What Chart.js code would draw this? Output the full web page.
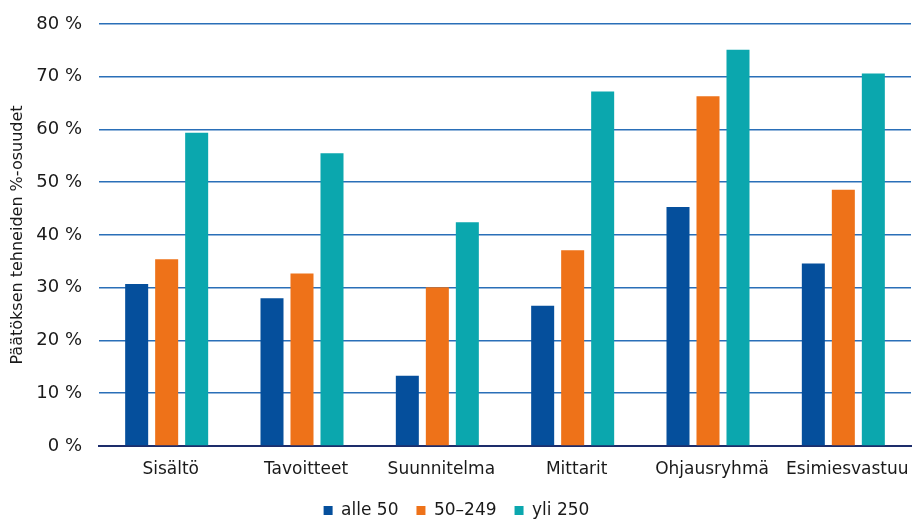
<!DOCTYPE html>
<html lang="fi">
<head>
<meta charset="utf-8">
<title>Päätöksen tehneiden %-osuudet</title>
<script src="https://cdn.jsdelivr.net/npm/chart.js@4/dist/chart.umd.min.js"></script>
<style>
  html, body { margin: 0; padding: 0; background: #ffffff; }
  #wrap { width: 915px; height: 519px; position: relative; }
</style>
</head>
<body>
<div id="wrap"><canvas id="chart" width="915" height="519"></canvas></div>
<script>
// Categories (x axis)
const categories = ['Sisältö', 'Tavoitteet', 'Suunnitelma', 'Mittarit', 'Ohjausryhmä', 'Esimiesvastuu'];

// Series values, % of respondents who made the decision, by company size
const seriesLabels = ['alle 50', '50–249', 'yli 250'];
const alle50 = [30.7, 28.0, 13.3, 26.6, 45.3, 34.6];
const size50to249 = [35.4, 32.7, 30.1, 37.1, 66.3, 48.6];
const yli250 = [59.4, 55.5, 42.4, 67.2, 75.1, 70.6];

// Y axis tick values
const yTickValues = [0, 10, 20, 30, 40, 50, 60, 70, 80];

const axisTitle = 'Päätöksen tehneiden %-osuudet';

const COLORS = ['#054f9c', '#ee7219', '#0ba7ae'];
const GRID = '#2a6fb8';
const BASE = '#1d2d6b';
const TEXT = '#1a1a1a';
const FONT = "'DejaVu Sans', sans-serif";

const data = {
  labels: categories,
  datasets: [alle50, size50to249, yli250].map((values, i) => ({
    label: seriesLabels[i],
    data: values,
    backgroundColor: COLORS[i],
    borderWidth: 0,
    categoryPercentage: 0.665,
    barPercentage: 0.767
  }))
};

new Chart(document.getElementById('chart'), {
  type: 'bar',
  data,
  options: {
    responsive: false,
    animation: false,
    layout: { padding: { top: 24, right: 4, left: 2, bottom: 0 } },
    plugins: {
      legend: {
        position: 'bottom',
        align: 'center',
        maxHeight: 35,
        labels: {
          boxWidth: 9,
          boxHeight: 9,
          padding: 18,
          color: TEXT,
          font: { family: FONT, size: 17 }
        }
      },
      tooltip: { enabled: false }
    },
    scales: {
      x: {
        afterFit: (scale) => {
          scale.height = 38;
          // the last label may run to the canvas edge; keep the plot width fixed
          scale.paddingLeft = 0;
          scale.paddingRight = 0;
        },
        grid: { display: false, drawTicks: false },
        border: { display: true, color: BASE, width: 2 },
        ticks: {
          color: TEXT,
          padding: 13,
          labelOffset: 4,
          maxRotation: 0,
          autoSkip: false,
          font: { family: FONT, size: 17 }
        }
      },
      y: {
        min: yTickValues[0],
        max: yTickValues[yTickValues.length - 1],
        afterBuildTicks: (axis) => { axis.ticks = yTickValues.map(v => ({ value: v })); },
        afterFit: (scale) => {
          scale.width = 97;
          scale.paddingTop = 0;
          scale.paddingBottom = 0;
        },
        grid: {
          drawTicks: false,
          color: (ctx) => ctx.tick && ctx.tick.value === 0 ? BASE : GRID,
          lineWidth: 1.6
        },
        border: { display: false },
        ticks: {
          color: TEXT,
          padding: 17,
          font: { family: FONT, size: 18 },
          callback: (v) => v + ' %'
        },
        title: {
          display: true,
          text: axisTitle,
          color: TEXT,
          padding: { top: 6, bottom: 0 },
          font: { family: FONT, size: 16 }
        }
      }
    }
  }
});
</script>
</body>
</html>
